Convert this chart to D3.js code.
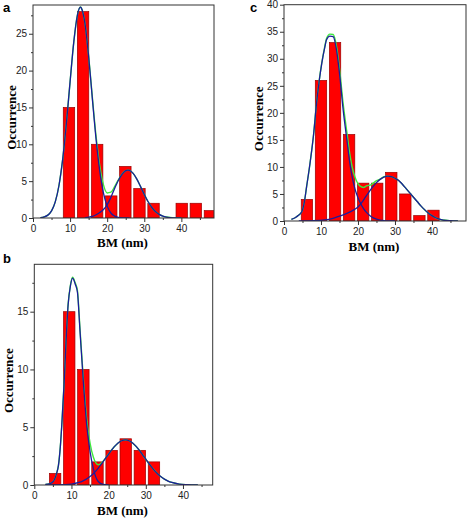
<!DOCTYPE html>
<html><head><meta charset="utf-8">
<script src="https://cdn.jsdelivr.net/npm/d3@7"></script>
<style>body{margin:0;background:#fff}</style>
</head><body>
<svg id="chart" width="468" height="521"></svg>
<script>
// ---------- DATA ----------
const binWidth = 3.8;
const xTicks = [0, 10, 20, 30, 40];
const xMinorTicks = [5, 15, 25, 35, 45];

// panel a
const centersA = [9.7, 13.5, 17.3, 21.1, 24.9, 28.7, 32.5, 36.3, 40.1, 43.9, 47.7];
const countsA  = [15, 28, 10, 3, 7, 4, 2, 0, 2, 2, 1];
const yTicksA  = [0, 5, 10, 15, 20, 25];
const fitA1 = [[2,0.04],[3,0.14],[4,0.39],[5,0.97],[6,2.19],[7,4.41],[8,7.95],[9,12.82],[10,18.5],[11,23.9],[12,27.6],[12.8,28.6],[13,28.5],[14,26.4],[15,21.9],[16,16.2],[17,10.7],[18,6.37],[19,3.38],[20,1.61],[21,0.68],[22,0.26],[23,0.09],[24,0.03],[26,0]];
const fitA2 = [[14,0.05],[15,0.11],[16,0.22],[17,0.44],[18,0.75],[19,1.15],[20,1.8],[21,2.8],[22,4.0],[23,5.08],[24,5.92],[25,6.42],[25.6,6.5],[26,6.46],[27,6.05],[28,5.27],[29,4.26],[30,3.2],[31,2.24],[32,1.46],[33,0.88],[34,0.49],[35,0.26],[36,0.13],[37,0.06],[38,0.02],[40,0]];
const sumA = [[2,0.04],[3,0.14],[4,0.39],[5,0.97],[6,2.19],[7,4.41],[8,7.95],[9,12.82],[10,18.5],[11,23.9],[12,27.6],[12.8,28.65],[13,28.55],[14,26.45],[15,22.0],[16,16.4],[17,11.1],[18,7.1],[19,4.5],[20,3.4],[21,3.5],[22,4.25],[23,5.17],[24,5.95],[25,6.42],[25.6,6.5],[26,6.46],[27,6.05],[28,5.27],[29,4.26],[30,3.2],[31,2.24],[32,1.46],[33,0.88],[34,0.49],[35,0.26],[36,0.13],[37,0.06],[38,0.02],[40,0]];

// panel b
const centersB = [5.6, 9.4, 13.2, 17.0, 20.8, 24.6, 28.4, 32.2];
const countsB  = [1, 15, 10, 2, 3, 4, 3, 2];
const yTicksB  = [0, 5, 10, 15];
const fitB1 = [[3,0.05],[4,0.1],[5.1,0.3],[6,1.0],[6.5,1.7],[7,3.3],[7.4,5.2],[8,8.7],[8.25,10.4],[9.1,15.6],[9.7,17.2],[10.3,17.9],[11,17.4],[11.6,16.7],[12.3,13.3],[13.2,8.9],[14.1,5.2],[15,2.9],[15.9,1.4],[17.2,0.3],[18.5,0.05],[20,0]];
const fitB2 = [[3,0],[6,0.01],[8,0.03],[10,0.08],[12,0.22],[13,0.34],[14,0.51],[15,0.73],[16,1.02],[17,1.38],[18,1.78],[19,2.23],[20,2.68],[21,3.11],[22,3.47],[23,3.74],[24,3.88],[24.5,3.9],[25,3.88],[26,3.74],[27,3.47],[28,3.11],[29,2.68],[30,2.23],[31,1.78],[32,1.38],[33,1.02],[34,0.73],[35,0.51],[36,0.34],[37,0.22],[39,0.08],[41,0.03],[44,0.005]];
const sumB = [[3,0.05],[4,0.1],[5.1,0.31],[6,1.01],[6.5,1.72],[7,3.32],[7.4,5.22],[8,8.73],[8.25,10.43],[9.1,15.65],[9.7,17.26],[10.3,17.98],[11,17.5],[11.6,16.85],[12.3,13.5],[13.2,9.2],[14.1,5.7],[15,3.63],[15.9,2.4],[17.2,1.75],[18.5,2.05],[20,2.68],[21,3.11],[22,3.47],[23,3.74],[24,3.88],[24.5,3.9],[25,3.88],[26,3.74],[27,3.47],[28,3.11],[29,2.68],[30,2.23],[31,1.78],[32,1.38],[33,1.02],[34,0.73],[35,0.51],[36,0.34],[37,0.22],[39,0.08],[41,0.03],[44,0.005]];

// panel c
const centersC = [6.2, 10.0, 13.8, 17.6, 21.4, 25.2, 29.0, 32.8, 36.6, 40.4];
const countsC  = [4, 26, 33, 16, 7, 7, 9, 5, 1, 2];
const yTicksC  = [0, 5, 10, 15, 20, 25, 30, 35, 40];
const fitC1 = [[2,0.3],[3,0.6],[4,1.1],[4.8,1.7],[5.5,3.5],[6.1,6.3],[7,10.5],[7.5,13.1],[8,16],[8.8,21.8],[9.5,25.8],[10.2,29.1],[11,32],[11.5,33.5],[12.4,34.2],[13.3,34.1],[14.2,31.6],[15.1,26.7],[16,20.5],[17,15.0],[17.8,10.7],[18.5,7.9],[19.2,5.9],[20,4.3],[20.5,3.5],[21.5,2.3],[22.3,1.6],[23.5,0.85],[25,0.35],[27,0.08],[30,0]];
const fitC2 = [[4,0],[8,0.05],[11,0.2],[13,0.45],[15,0.9],[17,1.4],[19,2.1],[20,2.6],[21,3.4],[22,4.4],[23,5.4],[24,6.3],[25,7.1],[26,7.7],[27,8.1],[28,8.3],[29,8.2],[30,7.9],[31,7.5],[32,6.8],[33,6.0],[34,5.2],[35,4.4],[36,3.6],[37,2.8],[38,2.1],[39,1.5],[40,1.0],[41,0.6],[42,0.35],[43,0.18],[45,0.05],[47,0.01]];
const sumC = [[2,0.3],[3,0.6],[4,1.1],[4.8,1.7],[5.5,3.5],[6.1,6.3],[7,10.5],[7.5,13.1],[8,16.05],[8.8,21.87],[9.5,25.9],[10.2,29.2],[11,32.2],[11.5,33.75],[12.4,34.55],[13.3,34.5],[14.2,32.3],[15.1,27.6],[16,21.65],[17,16.4],[17.8,12.35],[18.5,9.75],[19.2,8.1],[20,6.9],[20.5,6.5],[21.5,6.2],[22.3,6.5],[23.5,6.7],[25,7.45],[26,7.75],[27,8.18],[28,8.3],[29,8.2],[30,7.9],[31,7.5],[32,6.8],[33,6.0],[34,5.2],[35,4.4],[36,3.6],[37,2.8],[38,2.1],[39,1.5],[40,1.0],[41,0.6],[42,0.35],[43,0.18],[45,0.05],[47,0.01]];

const xLabel = "BM (nm)";
const yLabel = "Occurrence";

// ---------- LAYOUT ----------
const panels = [
  {letter:'a', centers:centersA, counts:countsA, fits:[fitA1, fitA2], sum:sumA, yTicks:yTicksA,
   xMax:48.8, yMax:28.9, l:33, r:214, t:5, b:218, lx:3, ly:12, occX:12, xlabY:247},
  {letter:'b', centers:centersB, counts:countsB, fits:[fitB1, fitB2], sum:sumB, yTicks:yTicksB,
   xMax:48, yMax:19.1, l:34.3, r:212.7, t:264.3, b:485, lx:3, ly:263, occX:9, xlabY:515},
  {letter:'c', centers:centersC, counts:countsC, fits:[fitC1, fitC2], sum:sumC, yTicks:yTicksC,
   xMax:49.2, yMax:40, l:284, r:466, t:4.7, b:221, lx:250, ly:12, occX:259, xlabY:251}
];

const svg = d3.select('#chart');
const axisColor = '#333';

panels.forEach((p, i) => {
  const x = d3.scaleLinear().domain([0, p.xMax]).range([p.l, p.r]);
  const y = d3.scaleLinear().domain([0, p.yMax]).range([p.b, p.t]);
  const g = svg.append('g');

  const clipId = 'clip' + i;
  svg.append('clipPath').attr('id', clipId)
    .append('rect').attr('x', p.l).attr('y', p.t).attr('width', p.r - p.l).attr('height', p.b - p.t);

  const plot = g.append('g').attr('clip-path', `url(#${clipId})`);
  const barW = binWidth * 0.81;
  const bars = p.centers.map((c, k) => ({c, v: p.counts[k]})).filter(d => d.v > 0);
  plot.selectAll('rect.bar').data(bars).enter().append('rect')
    .attr('class', 'bar')
    .attr('x', d => x(d.c - barW / 2))
    .attr('width', d => x(d.c + barW / 2) - x(d.c - barW / 2))
    .attr('y', d => y(d.v))
    .attr('height', d => y(0) - y(d.v))
    .attr('fill', '#ff0000')
    .attr('stroke', '#9a0000')
    .attr('stroke-width', 0.7);

  const line = d3.line().x(d => x(d[0])).y(d => y(d[1])).curve(d3.curveMonotoneX);
  plot.append('path').datum(p.sum).attr('d', line)
    .attr('fill', 'none').attr('stroke', '#3ee83e').attr('stroke-width', 1.4);
  p.fits.forEach(f => {
    plot.append('path').datum(f).attr('d', line)
      .attr('fill', 'none').attr('stroke', '#1c1c9c').attr('stroke-width', 1.3);
  });

  // axes
  const xAxis = g.append('g').attr('transform', `translate(0,${p.b})`)
    .call(d3.axisBottom(x).tickValues(xTicks).tickSize(4).tickPadding(3).tickFormat(d3.format('d')));
  g.append('g').attr('transform', `translate(0,${p.b})`)
    .call(d3.axisBottom(x).tickValues(xMinorTicks).tickSize(2).tickFormat(''));
  const yAxis = g.append('g').attr('transform', `translate(${p.l},0)`)
    .call(d3.axisLeft(y).tickValues(p.yTicks).tickSize(4).tickPadding(2).tickFormat(d3.format('d')));
  const yMinor = p.yTicks.slice(0, -1).map((t, k) => (t + p.yTicks[k + 1]) / 2)
    .concat([p.yTicks[p.yTicks.length - 1] + 2.5]).filter(v => v <= p.yMax);
  g.append('g').attr('transform', `translate(${p.l},0)`)
    .call(d3.axisLeft(y).tickValues(yMinor).tickSize(2).tickFormat(''));

  g.selectAll('.domain').remove();
  g.selectAll('.tick line').attr('stroke', axisColor);
  g.selectAll('.tick text').attr('fill', '#222')
    .style('font-family', '"Liberation Sans", Arial, sans-serif').style('font-size', '10px');

  g.append('rect').attr('x', p.l).attr('y', p.t).attr('width', p.r - p.l).attr('height', p.b - p.t)
    .attr('fill', 'none').attr('stroke', axisColor).attr('stroke-width', 1);

  // labels
  g.append('text').attr('x', (p.l + p.r) / 2 - 1).attr('y', p.xlabY)
    .attr('text-anchor', 'middle')
    .style('font-family', '"Liberation Serif", "Times New Roman", serif')
    .style('font-weight', 'bold').style('font-size', '13px').text(xLabel);
  g.append('text')
    .attr('transform', `translate(${p.occX + 4},${(p.t + p.b) / 2 + 6}) rotate(-90)`)
    .attr('text-anchor', 'middle')
    .style('font-family', '"Liberation Serif", "Times New Roman", serif')
    .style('font-weight', 'bold').style('font-size', '13px').text(yLabel);
  g.append('text').attr('x', p.lx).attr('y', p.ly)
    .style('font-family', '"Liberation Sans", Arial, sans-serif')
    .style('font-weight', 'bold').style('font-size', '13px').text(p.letter);
});
</script>
</body></html>
